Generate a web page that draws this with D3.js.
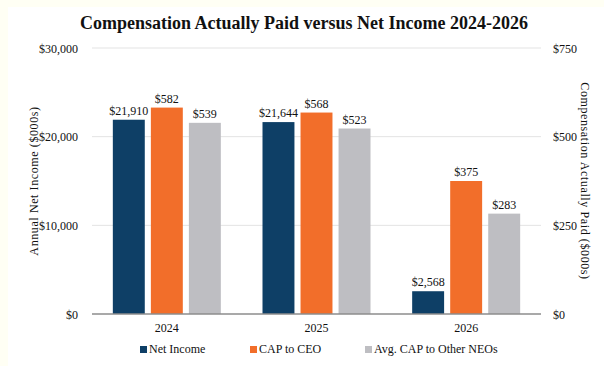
<!DOCTYPE html>
<html lang="en">
<head>
    <meta charset="UTF-8">
    <title>Compensation Actually Paid versus Net Income 2024-2026</title>
    <script src="https://d3js.org/d3.v7.min.js"></script>
    <style>
        body {
            margin: 0;
            overflow: hidden;
            background: #fffff4;
        }
        svg text {
            font-family: "Liberation Serif", "Times New Roman", serif !important;
            fill: #111;
        }
    </style>
</head>
<body>
    <div id="chart"></div>
    <script>
        // Data
        const years = ["2024", "2025", "2026"];
        const netIncome = [21910, 21644, 2568];
        const capCeo = [582, 568, 375];
        const capNeo = [539, 523, 283];
        const leftTicks = [0, 10000, 20000, 30000];
        const rightTicks = [0, 250, 500, 750];

        const width = 604, height = 366;
        const margin = {top: 48, right: 63, bottom: 52, left: 92};
        const serif = "'Liberation Serif', 'Times New Roman', serif";

        const svg = d3.select("#chart")
            .append("svg")
            .attr("width", width)
            .attr("height", height)
            .attr("font-family", serif);

        // white panel (cream strip on top/left)
        svg.append("rect")
            .attr("x", 8).attr("y", 7)
            .attr("width", width - 8).attr("height", height - 7)
            .attr("fill", "#fff");

        const x = d3.scaleBand()
            .domain(years)
            .range([margin.left, width - margin.right]);

        const x1 = d3.scaleBand()
            .domain(["ni", "ceo", "neo"])
            .range([0, 108])
            .paddingInner(0.16);

        const yLeft = d3.scaleLinear()
            .domain([0, 30000])
            .range([height - margin.bottom, margin.top]);

        const yRight = d3.scaleLinear()
            .domain([0, 750])
            .range([height - margin.bottom, margin.top]);

        // Gridlines
        svg.append("g")
            .selectAll("line")
            .data(leftTicks.slice(1))
            .join("line")
            .attr("x1", margin.left)
            .attr("x2", width - margin.right)
            .attr("y1", d => yLeft(d))
            .attr("y2", d => yLeft(d))
            .attr("stroke", "#e3e3e3")
            .attr("stroke-width", 1);

        // Left axis
        const leftAxis = svg.append("g")
            .attr("transform", `translate(${margin.left - 11},0)`)
            .call(d3.axisLeft(yLeft).tickValues(leftTicks)
                .tickFormat(d => "$" + d3.format(",")(d)).tickSize(0));
        leftAxis.attr("font-family", serif);
        leftAxis.select(".domain").remove();
        leftAxis.selectAll("text").attr("font-size", 12).attr("dy", "0.35em");

        // Right axis
        const rightAxis = svg.append("g")
            .attr("transform", `translate(${width - margin.right + 9},0)`)
            .call(d3.axisRight(yRight).tickValues(rightTicks)
                .tickFormat(d => "$" + d).tickSize(0));
        rightAxis.attr("font-family", serif);
        rightAxis.select(".domain").remove();
        rightAxis.selectAll("text").attr("font-size", 12).attr("dy", "0.35em");

        // Bars
        const series = [
            {key: "ni", values: netIncome, color: "#0e3f66", scale: yLeft, fmt: d => "$" + d3.format(",")(d)},
            {key: "ceo", values: capCeo, color: "#f26e2a", scale: yRight, fmt: d => "$" + d},
            {key: "neo", values: capNeo, color: "#bebec2", scale: yRight, fmt: d => "$" + d}
        ];

        const groupOffset = (x.bandwidth() - 108) / 2;

        series.forEach(s => {
            const g = svg.append("g");
            g.selectAll("rect")
                .data(years)
                .join("rect")
                .attr("x", (d, i) => x(d) + groupOffset + x1(s.key))
                .attr("width", x1.bandwidth())
                .attr("y", (d, i) => s.scale(s.values[i]))
                .attr("height", (d, i) => s.scale(0) - s.scale(s.values[i]))
                .attr("fill", s.color);
            g.selectAll("text")
                .data(years)
                .join("text")
                .attr("x", (d, i) => x(d) + groupOffset + x1(s.key) + x1.bandwidth() / 2)
                .attr("y", (d, i) => s.scale(s.values[i]) - 5)
                .attr("text-anchor", "middle")
                .attr("font-size", 12)
                .text((d, i) => s.fmt(s.values[i]));
        });

        // Baseline
        svg.append("line")
            .attr("x1", margin.left)
            .attr("x2", width - margin.right)
            .attr("y1", yLeft(0))
            .attr("y2", yLeft(0))
            .attr("stroke", "#8c8c8c")
            .attr("stroke-width", 1.5);

        // X labels
        svg.append("g")
            .selectAll("text")
            .data(years)
            .join("text")
            .attr("x", d => x(d) + x.bandwidth() / 2)
            .attr("y", yLeft(0) + 18)
            .attr("text-anchor", "middle")
            .attr("font-size", 12)
            .text(d => d);

        // Title
        svg.append("text")
            .attr("x", 304)
            .attr("y", 29)
            .attr("text-anchor", "middle")
            .attr("font-size", 18)
            .attr("font-weight", "bold")
            .text("Compensation Actually Paid versus Net Income 2024-2026");

        // Axis titles
        const midY = (margin.top + height - margin.bottom) / 2;
        svg.append("text")
            .attr("transform", `translate(38,${midY}) rotate(-90)`)
            .attr("text-anchor", "middle")
            .attr("font-size", 12)
            .attr("letter-spacing", 0.6)
            .text("Annual Net Income ($000s)");

        svg.append("text")
            .attr("transform", `translate(581,${midY}) rotate(90)`)
            .attr("text-anchor", "middle")
            .attr("font-size", 12)
            .attr("letter-spacing", 0.6)
            .text("Compensation Actually Paid ($000s)");

        // Legend
        const legendItems = [
            {label: "Net Income", color: "#0e3f66", x: 140},
            {label: "CAP to CEO", color: "#f26e2a", x: 250},
            {label: "Avg. CAP to Other NEOs", color: "#bebec2", x: 365}
        ];
        const legend = svg.append("g").selectAll("g")
            .data(legendItems)
            .join("g")
            .attr("transform", d => `translate(${d.x},352)`);
        legend.append("rect")
            .attr("x", 0).attr("y", -6)
            .attr("width", 7).attr("height", 7)
            .attr("fill", d => d.color);
        legend.append("text")
            .attr("x", 9)
            .attr("y", 1)
            .attr("font-size", 12)
            .text(d => d.label);
    </script>
</body>
</html>
